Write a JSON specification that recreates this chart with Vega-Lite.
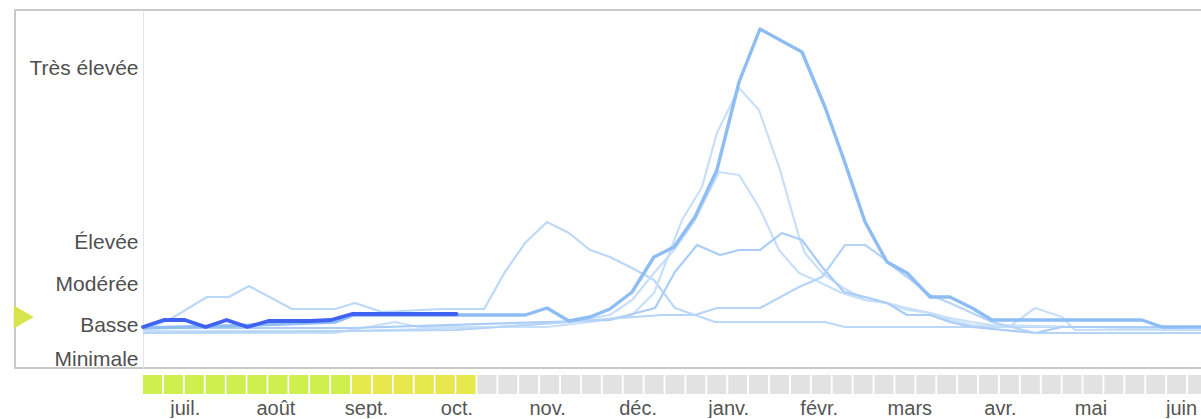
{
  "$schema": "https://vega.github.io/schema/vega-lite/v6.json",
  "padding": {"left": 12, "top": 9, "right": 0, "bottom": 0},
  "autosize": {"type": "pad"},
  "background": "white",
  "spacing": 5,
  "config": {"font": "Liberation Sans"},
  "datasets": {
    "saisons": [
      {"s": "2014-2015", "w": 0, "v": 41}, {"s": "2014-2015", "w": 1, "v": 48}, {"s": "2014-2015", "w": 2, "v": 48}, {"s": "2014-2015", "w": 3, "v": 41},
      {"s": "2014-2015", "w": 4, "v": 48}, {"s": "2014-2015", "w": 5, "v": 41}, {"s": "2014-2015", "w": 6, "v": 47}, {"s": "2014-2015", "w": 7, "v": 47},
      {"s": "2014-2015", "w": 8, "v": 47}, {"s": "2014-2015", "w": 9, "v": 48}, {"s": "2014-2015", "w": 10, "v": 54}, {"s": "2014-2015", "w": 11, "v": 54},
      {"s": "2014-2015", "w": 12, "v": 54}, {"s": "2014-2015", "w": 13, "v": 54}, {"s": "2014-2015", "w": 14, "v": 54}, {"s": "2014-2015", "w": 15, "v": 54},

      {"s": "2012-2013", "w": 0, "v": 40}, {"s": "2012-2013", "w": 4.1, "v": 42}, {"s": "2012-2013", "w": 9.2, "v": 46}, {"s": "2012-2013", "w": 10.1, "v": 53},
      {"s": "2012-2013", "w": 18.3, "v": 53}, {"s": "2012-2013", "w": 19.33, "v": 60}, {"s": "2012-2013", "w": 20.38, "v": 47}, {"s": "2012-2013", "w": 21.39, "v": 51},
      {"s": "2012-2013", "w": 22.34, "v": 59}, {"s": "2012-2013", "w": 23.4, "v": 76}, {"s": "2012-2013", "w": 24.45, "v": 111}, {"s": "2012-2013", "w": 25.41, "v": 121},
      {"s": "2012-2013", "w": 26.41, "v": 151}, {"s": "2012-2013", "w": 27.46, "v": 198}, {"s": "2012-2013", "w": 28.52, "v": 286}, {"s": "2012-2013", "w": 29.52, "v": 339},
      {"s": "2012-2013", "w": 31.53, "v": 316}, {"s": "2012-2013", "w": 32.63, "v": 261}, {"s": "2012-2013", "w": 33.54, "v": 208}, {"s": "2012-2013", "w": 34.55, "v": 146},
      {"s": "2012-2013", "w": 35.36, "v": 115}, {"s": "2012-2013", "w": 35.6, "v": 106}, {"s": "2012-2013", "w": 36.56, "v": 95}, {"s": "2012-2013", "w": 37.66, "v": 71},
      {"s": "2012-2013", "w": 38.61, "v": 71}, {"s": "2012-2013", "w": 39.67, "v": 60}, {"s": "2012-2013", "w": 40.62, "v": 48}, {"s": "2012-2013", "w": 47.8, "v": 48},
      {"s": "2012-2013", "w": 48.76, "v": 41}, {"s": "2012-2013", "w": 51.5, "v": 41},

      {"s": "2009-2010", "w": 0, "v": 38}, {"s": "2009-2010", "w": 1.24, "v": 48}, {"s": "2009-2010", "w": 3.06, "v": 71}, {"s": "2009-2010", "w": 4.11, "v": 71},
      {"s": "2009-2010", "w": 5.07, "v": 82}, {"s": "2009-2010", "w": 7.13, "v": 59}, {"s": "2009-2010", "w": 9.19, "v": 59}, {"s": "2009-2010", "w": 10.14, "v": 65},
      {"s": "2009-2010", "w": 11.44, "v": 56}, {"s": "2009-2010", "w": 14.31, "v": 59}, {"s": "2009-2010", "w": 16.32, "v": 59}, {"s": "2009-2010", "w": 17.32, "v": 96},
      {"s": "2009-2010", "w": 18.28, "v": 125}, {"s": "2009-2010", "w": 19.33, "v": 146}, {"s": "2009-2010", "w": 20.38, "v": 135}, {"s": "2009-2010", "w": 21.39, "v": 118},
      {"s": "2009-2010", "w": 22.34, "v": 111}, {"s": "2009-2010", "w": 23.4, "v": 100}, {"s": "2009-2010", "w": 24.45, "v": 88}, {"s": "2009-2010", "w": 25.45, "v": 60},
      {"s": "2009-2010", "w": 26.41, "v": 53}, {"s": "2009-2010", "w": 27.37, "v": 46}, {"s": "2009-2010", "w": 32.63, "v": 46}, {"s": "2009-2010", "w": 33.59, "v": 41},
      {"s": "2009-2010", "w": 51.5, "v": 41},

      {"s": "2008-2009", "w": 0, "v": 35}, {"s": "2008-2009", "w": 9.19, "v": 35}, {"s": "2008-2009", "w": 12.06, "v": 46}, {"s": "2008-2009", "w": 13.2, "v": 41},
      {"s": "2008-2009", "w": 19.33, "v": 41}, {"s": "2008-2009", "w": 21.39, "v": 46}, {"s": "2008-2009", "w": 23.4, "v": 53}, {"s": "2008-2009", "w": 24.45, "v": 75},
      {"s": "2008-2009", "w": 25.79, "v": 148}, {"s": "2008-2009", "w": 26.75, "v": 181}, {"s": "2008-2009", "w": 27.46, "v": 235}, {"s": "2008-2009", "w": 28.52, "v": 280},
      {"s": "2008-2009", "w": 29.47, "v": 258}, {"s": "2008-2009", "w": 30.48, "v": 198}, {"s": "2008-2009", "w": 31.39, "v": 131}, {"s": "2008-2009", "w": 31.67, "v": 115},
      {"s": "2008-2009", "w": 32.49, "v": 95}, {"s": "2008-2009", "w": 33.44, "v": 81}, {"s": "2008-2009", "w": 34.55, "v": 68}, {"s": "2008-2009", "w": 35.6, "v": 65},
      {"s": "2008-2009", "w": 36.56, "v": 60}, {"s": "2008-2009", "w": 37.66, "v": 55}, {"s": "2008-2009", "w": 38.61, "v": 50}, {"s": "2008-2009", "w": 39.67, "v": 46},
      {"s": "2008-2009", "w": 40.62, "v": 43}, {"s": "2008-2009", "w": 45, "v": 41}, {"s": "2008-2009", "w": 50.72, "v": 38}, {"s": "2008-2009", "w": 51.5, "v": 38},

      {"s": "2010-2011", "w": 0, "v": 37}, {"s": "2010-2011", "w": 10, "v": 37}, {"s": "2010-2011", "w": 17, "v": 41}, {"s": "2010-2011", "w": 20.38, "v": 46},
      {"s": "2010-2011", "w": 22.34, "v": 53}, {"s": "2010-2011", "w": 23.4, "v": 68}, {"s": "2010-2011", "w": 24.45, "v": 95}, {"s": "2010-2011", "w": 25.41, "v": 118},
      {"s": "2010-2011", "w": 26.41, "v": 148}, {"s": "2010-2011", "w": 27.56, "v": 196}, {"s": "2010-2011", "w": 28.52, "v": 193}, {"s": "2010-2011", "w": 29.47, "v": 161},
      {"s": "2010-2011", "w": 30.43, "v": 118}, {"s": "2010-2011", "w": 31.39, "v": 95}, {"s": "2010-2011", "w": 32.15, "v": 88}, {"s": "2010-2011", "w": 33.44, "v": 75},
      {"s": "2010-2011", "w": 34.55, "v": 68}, {"s": "2010-2011", "w": 35.6, "v": 65}, {"s": "2010-2011", "w": 36.56, "v": 58}, {"s": "2010-2011", "w": 37.66, "v": 55},
      {"s": "2010-2011", "w": 38.61, "v": 48}, {"s": "2010-2011", "w": 39.67, "v": 43}, {"s": "2010-2011", "w": 41.44, "v": 41}, {"s": "2010-2011", "w": 42.68, "v": 60},
      {"s": "2010-2011", "w": 43.97, "v": 51}, {"s": "2010-2011", "w": 44.59, "v": 38}, {"s": "2010-2011", "w": 51.5, "v": 38},

      {"s": "2013-2014", "w": 0, "v": 40}, {"s": "2013-2014", "w": 10, "v": 40}, {"s": "2013-2014", "w": 19.33, "v": 46}, {"s": "2013-2014", "w": 22.34, "v": 48},
      {"s": "2013-2014", "w": 24.5, "v": 60}, {"s": "2013-2014", "w": 25.45, "v": 96}, {"s": "2013-2014", "w": 26.51, "v": 123}, {"s": "2013-2014", "w": 27.61, "v": 113},
      {"s": "2013-2014", "w": 28.52, "v": 118}, {"s": "2013-2014", "w": 29.52, "v": 118}, {"s": "2013-2014", "w": 30.57, "v": 135}, {"s": "2013-2014", "w": 31.53, "v": 128},
      {"s": "2013-2014", "w": 32.49, "v": 101}, {"s": "2013-2014", "w": 33.54, "v": 76}, {"s": "2013-2014", "w": 34.55, "v": 71}, {"s": "2013-2014", "w": 35.6, "v": 65},
      {"s": "2013-2014", "w": 36.56, "v": 53}, {"s": "2013-2014", "w": 37.66, "v": 53}, {"s": "2013-2014", "w": 38.61, "v": 46}, {"s": "2013-2014", "w": 39.67, "v": 41},
      {"s": "2013-2014", "w": 42.68, "v": 35}, {"s": "2013-2014", "w": 43.97, "v": 41}, {"s": "2013-2014", "w": 51.5, "v": 41},

      {"s": "2011-2012", "w": 0, "v": 35}, {"s": "2011-2012", "w": 15, "v": 38}, {"s": "2011-2012", "w": 24.83, "v": 53}, {"s": "2011-2012", "w": 26.41, "v": 53},
      {"s": "2011-2012", "w": 27.46, "v": 60}, {"s": "2011-2012", "w": 29.52, "v": 60}, {"s": "2011-2012", "w": 31.39, "v": 81}, {"s": "2011-2012", "w": 32.49, "v": 91},
      {"s": "2011-2012", "w": 33.59, "v": 123}, {"s": "2011-2012", "w": 34.55, "v": 123}, {"s": "2011-2012", "w": 35.36, "v": 111}, {"s": "2011-2012", "w": 35.6, "v": 106},
      {"s": "2011-2012", "w": 36.56, "v": 91}, {"s": "2011-2012", "w": 37.66, "v": 73}, {"s": "2011-2012", "w": 38.61, "v": 65}, {"s": "2011-2012", "w": 39.67, "v": 55},
      {"s": "2011-2012", "w": 40.62, "v": 46}, {"s": "2011-2012", "w": 42.68, "v": 35}, {"s": "2011-2012", "w": 51.5, "v": 35}
    ],
    "marqueur": [{"w": -5.71, "v": 51}],
    "semaines": [
      {"w": 0}, {"w": 1}, {"w": 2}, {"w": 3}, {"w": 4}, {"w": 5}, {"w": 6}, {"w": 7}, {"w": 8}, {"w": 9},
      {"w": 10}, {"w": 11}, {"w": 12}, {"w": 13}, {"w": 14}, {"w": 15}, {"w": 16}, {"w": 17}, {"w": 18}, {"w": 19},
      {"w": 20}, {"w": 21}, {"w": 22}, {"w": 23}, {"w": 24}, {"w": 25}, {"w": 26}, {"w": 27}, {"w": 28}, {"w": 29},
      {"w": 30}, {"w": 31}, {"w": 32}, {"w": 33}, {"w": 34}, {"w": 35}, {"w": 36}, {"w": 37}, {"w": 38}, {"w": 39},
      {"w": 40}, {"w": 41}, {"w": 42}, {"w": 43}, {"w": 44}, {"w": 45}, {"w": 46}, {"w": 47}, {"w": 48}, {"w": 49}, {"w": 50}
    ]
  },
  "vconcat": [
    {
      "width": 1187,
      "height": 358,
      "view": {"stroke": "#c9c9c9", "strokeWidth": 2},
      "layer": [
        {
          "data": {"name": "saisons"},
          "transform": [{"filter": {"field": "s", "oneOf": ["2008-2009", "2009-2010", "2010-2011", "2011-2012", "2013-2014"]}}],
          "mark": {"type": "line", "clip": true, "strokeWidth": 2.2, "strokeJoin": "round"},
          "encoding": {
            "x": {"field": "w", "type": "quantitative", "scale": {"domain": [-6.124, 50.67], "nice": false, "zero": false}, "axis": null},
            "y": {
              "field": "v", "type": "quantitative",
              "scale": {"domain": [0, 358], "nice": false, "zero": true},
              "axis": {
                "orient": "left", "offset": -128, "title": null, "grid": false, "ticks": false,
                "domainColor": "#e4e4e4", "domainWidth": 1,
                "values": [9, 43, 84, 126, 300],
                "labelExpr": "datum.value == 9 ? 'Minimale' : datum.value == 43 ? 'Basse' : datum.value == 84 ? 'Modérée' : datum.value == 126 ? 'Élevée' : 'Très élevée'",
                "labelFont": "Liberation Sans", "labelFontSize": 21, "labelColor": "#4f4f4f",
                "labelPadding": 5, "labelFlush": false, "labelOverlap": false, "labelBaseline": "middle"
              }
            },
            "color": {
              "field": "s", "type": "nominal", "legend": null,
              "scale": {"domain": ["2008-2009", "2009-2010", "2010-2011", "2011-2012", "2013-2014"], "range": ["#c8dff9", "#bcd8f8", "#c8dff9", "#b6d4f7", "#a9cdf6"]}
            },
            "detail": {"field": "s"}
          }
        },
        {
          "data": {"name": "saisons"},
          "transform": [{"filter": {"field": "s", "equal": "2012-2013"}}],
          "mark": {"type": "line", "clip": true, "strokeWidth": 3.4, "strokeJoin": "round", "color": "#8dbdf3"},
          "encoding": {
            "x": {"field": "w", "type": "quantitative", "axis": null},
            "y": {"field": "v", "type": "quantitative"}
          }
        },
        {
          "data": {"name": "saisons"},
          "transform": [{"filter": {"field": "s", "equal": "2014-2015"}}],
          "mark": {"type": "line", "clip": true, "strokeWidth": 3.8, "strokeJoin": "round", "strokeCap": "round", "color": "#3f62f0"},
          "encoding": {
            "x": {"field": "w", "type": "quantitative", "axis": null},
            "y": {"field": "v", "type": "quantitative"}
          }
        },
        {
          "data": {"name": "marqueur"},
          "mark": {"type": "point", "shape": "triangle-right", "filled": true, "size": 529, "color": "#d8e44c", "opacity": 1, "strokeWidth": 0},
          "encoding": {
            "x": {"field": "w", "type": "quantitative", "axis": null},
            "y": {"field": "v", "type": "quantitative"}
          }
        }
      ]
    },
    {
      "width": 1187,
      "height": 19,
      "view": {"stroke": null},
      "layer": [
        {
          "data": {"name": "semaines"},
          "mark": {"type": "rect", "clip": true, "x2Offset": 19, "color": "#e2e2e2"},
          "encoding": {
            "x": {
              "field": "w", "type": "quantitative",
              "scale": {"domain": [-6.124, 50.67], "nice": false, "zero": false},
              "axis": {
                "orient": "bottom", "title": null, "domain": false, "ticks": false, "grid": false,
                "values": [2, 6.333, 10.667, 15, 19.333, 23.667, 28, 32.333, 36.667, 41, 45.333, 49.667],
                "labelExpr": "['juil.','août','sept.','oct.','nov.','déc.','janv.','févr.','mars','avr.','mai','juin'][round((datum.value-2)*3/13)]",
                "labelFont": "Liberation Sans", "labelFontSize": 20, "labelColor": "#555555",
                "labelPadding": 4, "labelFlush": false, "labelOverlap": false
              }
            },
            "x2": {"field": "w"}
          }
        },
        {
          "data": {"name": "saisons"},
          "transform": [{"filter": {"field": "s", "equal": "2014-2015"}}],
          "mark": {"type": "rect", "clip": true, "x2Offset": 19},
          "encoding": {
            "x": {"field": "w", "type": "quantitative"},
            "x2": {"field": "w"},
            "color": {"field": "v", "type": "quantitative", "legend": null, "scale": {"type": "threshold", "domain": [50], "range": ["#cdf04f", "#e6e84c"]}}
          }
        }
      ]
    }
  ]
}
